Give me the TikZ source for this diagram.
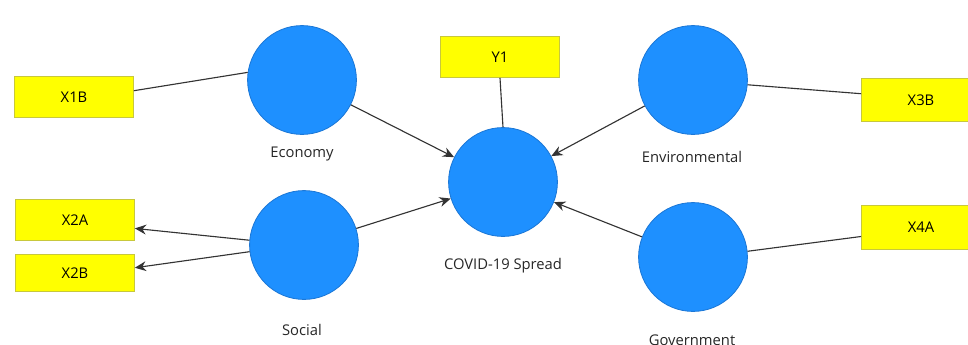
\documentclass[tikz,border=0pt]{standalone}
\usepackage{fontspec}
\setmainfont{Open Sans}
\usetikzlibrary{arrows.meta}
\definecolor{lvblue}{RGB}{30,144,255}
\definecolor{lvedge}{RGB}{28,120,215}
\definecolor{indyellow}{RGB}{255,255,0}
\definecolor{indedge}{RGB}{200,200,60}
\tikzset{
  latent/.style={circle, fill=lvblue, draw=lvedge, line width=0.6pt, minimum size=2.72cm, inner sep=0pt},
  indicator/.style={rectangle, fill=indyellow, draw=indedge, line width=0.6pt, minimum width=2.97cm, minimum height=1.02cm, inner sep=0pt, font=\fontsize{10.5}{12}\selectfont},
  lvlabel/.style={font=\fontsize{10.5}{12}\selectfont, text=black!85},
  conn/.style={draw=black!80, line width=0.8pt},
  arr/.style={conn, -{Stealth[length=8pt,width=7pt]}}
}
\begin{document}
\begin{tikzpicture}[x=0.025cm,y=-0.025cm]
\useasboundingbox (0,0) rectangle (968,344);
\clip (0,0) rectangle (968,344);
% latent variables
\node[latent] (eco) at (302,80) {};
\node[latent] (soc) at (304,245) {};
\node[latent] (cov) at (503,182) {};
\node[latent] (env) at (693,80) {};
\node[latent] (gov) at (693,257) {};
% labels
\node[lvlabel] (ecol) at (302,154) {Economy};
\node[lvlabel] (socl) at (302,330) {Social};
\node[lvlabel] (covl) at (503,266) {COVID-19 Spread};
\node[lvlabel] (envl) at (692,157) {Environmental};
\node[lvlabel] (govl) at (692,340) {Government};
% indicators
\node[indicator] (x1b) at (74,97) {X1B};
\node[indicator] (x2a) at (75,220) {X2A};
\node[indicator, minimum height=0.93cm] (x2b) at (75,273) {X2B};
\node[indicator] (y1) at (500,57) {Y1};
\node[indicator, minimum height=1.07cm] (x3b) at (921,100) {X3B};
\node[indicator, minimum height=1.1cm] (x4a) at (921,227) {X4A};
% outer model
\draw[conn] (x1b.6) -- (eco.172);
\draw[conn] (y1.south) -- (cov.north);
\draw[conn] (x3b.174) -- (env.-5);
\draw[conn] (x4a.189) -- (gov.6);
\draw[arr] (soc.175) -- (x2a.-8);
\draw[arr] (soc.187) -- (x2b.5);
% inner model
\draw[arr] (eco) -- (cov);
\draw[arr] (soc) -- (cov);
\draw[arr] (env) -- (cov);
\draw[arr] (gov) -- (cov);
\end{tikzpicture}
\end{document}
